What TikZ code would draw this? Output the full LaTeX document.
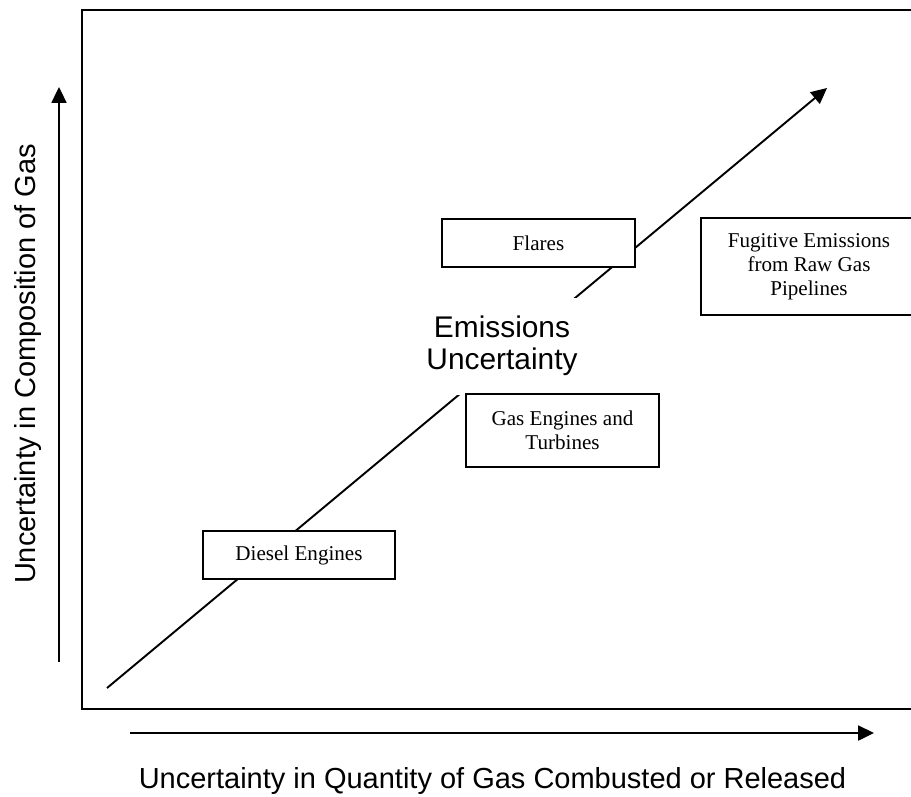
\documentclass[tikz,border=0pt]{standalone}
\usepackage{fontspec}
\setmainfont{Liberation Serif}
\setsansfont{Liberation Sans}
\usetikzlibrary{arrows.meta}
\tikzset{
  source/.style={draw, line width=0.8pt, fill=white, align=center, inner sep=0pt,
    font=\fontsize{12}{13.8}\selectfont},
  axislabel/.style={font=\sffamily\fontsize{16.5}{19}\selectfont},
  bigarrow/.style={line width=1.1pt, -{Triangle[length=9pt,width=8.5pt]}}
}
\begin{document}
\begin{tikzpicture}[x=0.02cm, y=-0.02cm]
        \useasboundingbox (0,0) rectangle (911,796);

        % Define the end points
        \coordinate (low) at (107,688);
        \coordinate (high) at (827,88);
        \coordinate (yfoot) at (59,662);
        \coordinate (ytip) at (59,87);
        \coordinate (xfoot) at (130,733);
        \coordinate (xtip) at (874,733);

        % Draw frame
        \draw[line width=0.8pt] (82,10) rectangle (916,709);

        % Draw axes
        \draw[bigarrow] (yfoot) -- (ytip);
        \draw[bigarrow] (xfoot) -- (xtip);

        % Diagonal arrow
        \draw[bigarrow] (low) -- (high);

        % Label diagonal
        \node (emis) at (502,346) [fill=white, align=center, minimum width=3.1cm, minimum height=1.94cm,
          inner sep=0pt, font=\sffamily\fontsize{17}{18.2}\selectfont] {Emissions\\Uncertainty};

        % Sources
        \node (diesel) at (299,555) [source, minimum width=3.84cm, minimum height=0.96cm] {Diesel Engines};
        \node (flares) at (538.5,243) [source, minimum width=3.86cm, minimum height=0.96cm] {Flares};
        \node (gasturb) at (562.5,430.5) [source, minimum width=3.86cm, minimum height=1.46cm] {Gas Engines and\\Turbines};
        \node (fugitive) at (809,266.5) [source, minimum width=4.32cm, minimum height=1.94cm] {Fugitive Emissions\\from Raw Gas\\Pipelines};

        % Axis labels
        \node (ylabel) at (35,364) [axislabel, rotate=90, anchor=base] {Uncertainty in Composition of Gas};
        \node (xlabel) at (492.5,788) [axislabel, anchor=base] {Uncertainty in Quantity of Gas Combusted or Released};
    \end{tikzpicture}
\end{document}
